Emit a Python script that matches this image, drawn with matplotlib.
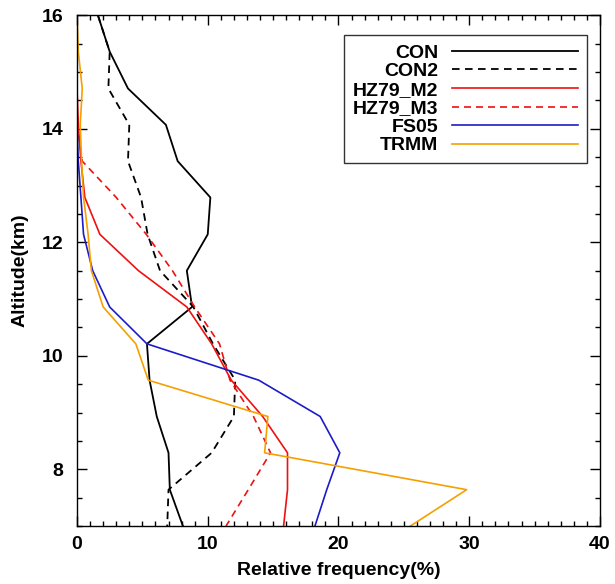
import matplotlib
matplotlib.use('Agg')
import matplotlib.pyplot as plt
from matplotlib.ticker import MultipleLocator

plt.rcParams['font.family'] = ['Liberation Sans', 'DejaVu Sans']
plt.rcParams['font.weight'] = 'bold'

# altitude levels (km), top to bottom
altitude = [16.0, 15.36, 14.71, 14.07, 13.43, 12.79, 12.14, 11.5,
            10.86, 10.21, 9.57, 8.93, 8.29, 7.64, 7.0]

# relative frequency (%) at each level
con = [1.6, 2.5, 3.9, 6.8, 7.7, 10.2, 10.0, 8.4, 8.8, 5.35, 5.55, 6.1, 7.0, 7.1, 8.1]
con2 = [1.6, 2.5, 2.4, 4.0, 3.9, 4.9, 5.4, 6.35, 8.9, 10.4, 12.1, 12.0, 10.3, 7.0, 6.9]
hz79_m2 = [0.0, 0.0, 0.0, 0.1, 0.3, 0.6, 1.75, 4.7, 8.4, 10.3, 11.8, 14.2, 16.1, 16.1, 15.8]
hz79_m3 = [0.0, 0.0, 0.0, 0.0, 0.4, 3.0, 5.3, 7.3, 9.0, 10.9, 11.7, 13.5, 14.8, 13.1, 11.4]
fs05 = [0.0, 0.0, 0.0, 0.0, 0.1, 0.3, 0.5, 1.2, 2.5, 5.35, 13.9, 18.6, 20.1, 19.1, 18.2]
trmm = [0.0, 0.1, 0.4, 0.25, 0.35, 0.5, 0.85, 1.1, 2.0, 4.5, 5.45, 14.6, 14.35, 29.8, 25.5]

fig = plt.figure(figsize=(6.15, 5.84), dpi=100)
ax = fig.add_axes([0.1252, 0.0993, 0.8504, 0.8745])

dash = (0, (4.2, 3.0))
ax.plot(con, altitude, color='black', lw=1.3, label='CON')
ax.plot(con2, altitude, color='black', lw=1.3, linestyle=dash, label='CON2')
ax.plot(hz79_m2, altitude, color='#ee1111', lw=1.2, label='HZ79_M2')
ax.plot(hz79_m3, altitude, color='#ee1111', lw=1.2, linestyle=dash, label='HZ79_M3')
ax.plot(fs05, altitude, color='#1c1cc8', lw=1.2, label='FS05')
ax.plot(trmm, altitude, color='#f5a000', lw=1.2, label='TRMM')

ax.set_xlim(0, 40)
ax.set_ylim(7, 16)
ax.xaxis.set_major_locator(MultipleLocator(10))
ax.xaxis.set_minor_locator(MultipleLocator(1))
ax.yaxis.set_major_locator(MultipleLocator(2))
ax.yaxis.set_minor_locator(MultipleLocator(0.5))
ax.tick_params(which='both', direction='in', top=True, right=True, labelsize=14, width=1)
ax.tick_params(which='major', length=7)
ax.tick_params(which='minor', length=3.6)
ax.tick_params(axis='x', which='major', pad=7)
ax.tick_params(axis='y', which='major', pad=10)
for s in ax.spines.values():
    s.set_linewidth(1.0)

ax.set_xlabel('Relative frequency(%)', fontsize=14, fontweight='bold', labelpad=7)
ax.set_ylabel('Altitude(km)', fontsize=14, fontweight='bold', labelpad=9)

leg = ax.legend(loc='upper right', bbox_to_anchor=(0.975, 0.961), borderaxespad=0,
                markerfirst=False, handlelength=6.5, handletextpad=0.7,
                labelspacing=0.05, borderpad=0.45, fancybox=False, framealpha=1,
                prop={'size': 14, 'weight': 'bold'})
leg.get_frame().set_edgecolor('#333333')
leg.get_frame().set_linewidth(1.0)

fig.savefig('out.png', dpi=100)
